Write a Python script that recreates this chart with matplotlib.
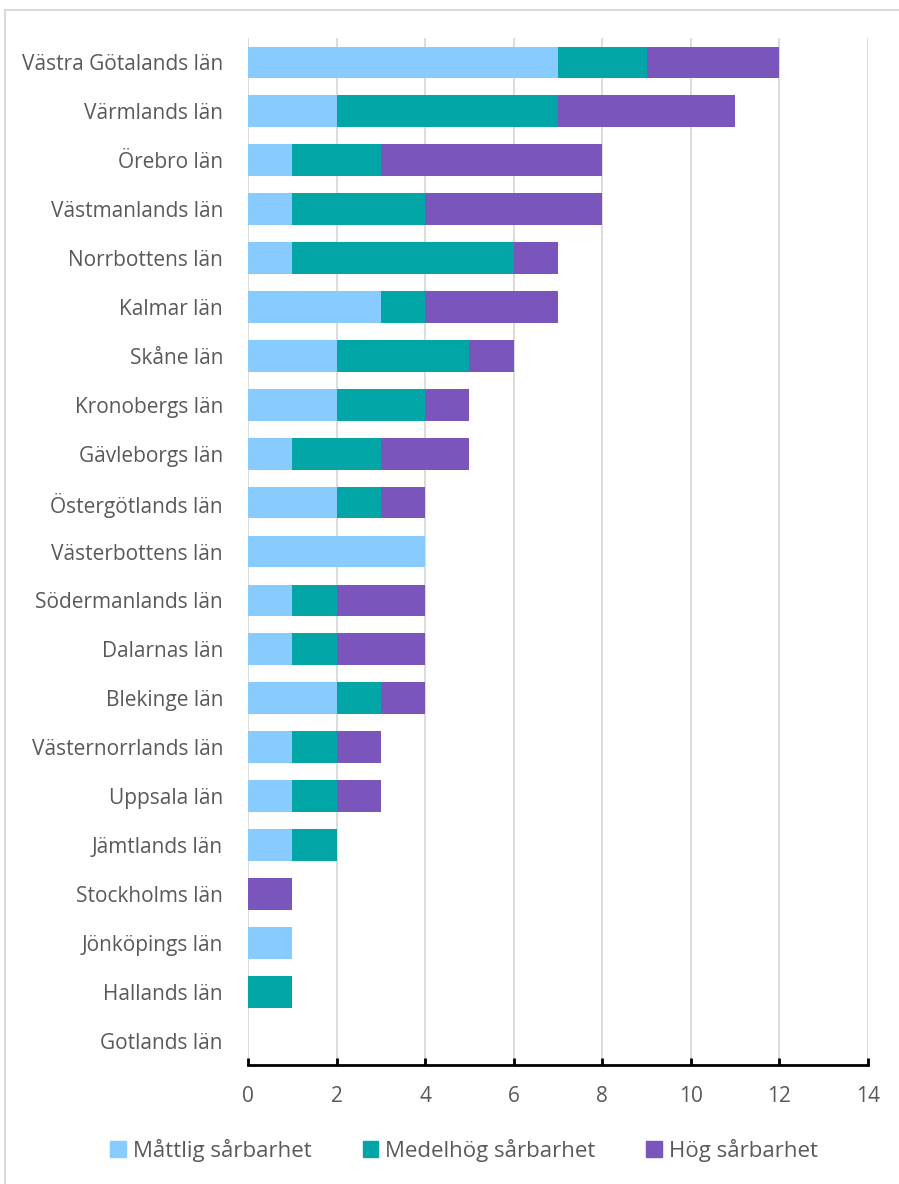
import numpy as np
import matplotlib.pyplot as plt
from matplotlib.patches import Rectangle, Patch

plt.rcParams['font.family'] = ['Open Sans', 'DejaVu Sans']

regions = ['Västra Götalands län', 'Värmlands län', 'Örebro län', 'Västmanlands län',
           'Norrbottens län', 'Kalmar län', 'Skåne län', 'Kronobergs län',
           'Gävleborgs län', 'Östergötlands län', 'Västerbottens län',
           'Södermanlands län', 'Dalarnas län', 'Blekinge län', 'Västernorrlands län',
           'Uppsala län', 'Jämtlands län', 'Stockholms län', 'Jönköpings län',
           'Hallands län', 'Gotlands län']
mattlig = [7, 2, 1, 1, 1, 3, 2, 2, 1, 2, 4, 1, 1, 2, 1, 1, 1, 0, 1, 0, 0]
medelhog = [2, 5, 2, 3, 5, 1, 3, 2, 2, 1, 0, 1, 1, 1, 1, 1, 1, 0, 0, 1, 0]
hog = [3, 4, 5, 4, 1, 3, 1, 1, 2, 1, 0, 2, 2, 1, 1, 1, 0, 1, 0, 0, 0]
series = ['Måttlig sårbarhet', 'Medelhög sårbarhet', 'Hög sårbarhet']
colors = ['#88CBFF', '#02A6A6', '#7955BC']
xticks = [0, 2, 4, 6, 8, 10, 12, 14]

fig = plt.figure(figsize=(8.99, 11.84), dpi=100)
ax = fig.add_axes([248 / 899, 1 - 1065 / 1184, 620 / 899, (1065 - 38) / 1184])

# outer chart border
fig.patches.append(Rectangle((5 / 899, -0.1), 1.2, 1 - 10 / 1184 + 0.1,
                             transform=fig.transFigure, fill=False,
                             edgecolor='#D9D9D9', linewidth=1.5))

y = np.arange(len(regions))
left = np.zeros(len(regions))
for vals, c in zip([mattlig, medelhog, hog], colors):
    ax.barh(y, vals, left=left, height=0.65, color=c, zorder=3)
    left += np.array(vals)

ax.set_ylim(len(regions) - 0.5, -0.5)
ax.set_xlim(0, 14)
ax.set_xticks(xticks)
ax.set_yticks(y)
ax.set_yticklabels(regions)

ax.xaxis.grid(True, color='#D9D9D9', linewidth=1.3, zorder=0)
for s in ['top', 'right', 'left']:
    ax.spines[s].set_visible(False)
ax.spines['bottom'].set_linewidth(2)
ax.spines['bottom'].set_color('black')

ax.tick_params(axis='y', length=0, pad=18, labelsize=15, labelcolor='#595959')
ax.tick_params(axis='x', length=5, width=2, direction='in', pad=15,
               labelsize=15, labelcolor='#595959')

handles = [Patch(color=c, label=s) for c, s in zip(colors, series)]
fig.legend(handles=handles, loc='center', bbox_to_anchor=(464 / 899, 1 - 1150 / 1184),
           ncol=3, frameon=False, fontsize=16, handlelength=0.7, handleheight=0.7,
           handletextpad=0.3, columnspacing=2.3, labelcolor='#595959')

fig.savefig('out.png', dpi=100)
